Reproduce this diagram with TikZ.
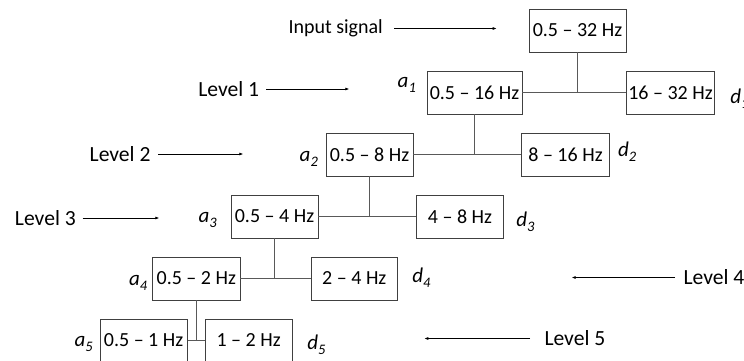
\documentclass[tikz,border=0pt]{standalone}
\usepackage{fontspec}
\setmainfont{Carlito}
\usetikzlibrary{arrows.meta}
\newcommand\mysubsc[1]{\raisebox{-5pt}{\fontsize{14.5}{16}\selectfont\itshape #1}}
\begin{document}
\begin{tikzpicture}[x=1pt,y=-1pt,
  band/.style={draw=black!75, line width=0.9pt, minimum height=43pt, inner sep=1pt,
    font=\fontsize{20}{24}\selectfont},
  conn/.style={draw=black!65, line width=0.9pt},
  lvl/.style={inner sep=0pt, font=\fontsize{21.6}{26}\selectfont},
  sym/.style={inner sep=0pt, anchor=base west, font=\fontsize{21}{25}\selectfont\itshape},
  arr/.style={draw=black, line width=0.7pt, -{Latex[length=4pt,width=3pt]}}]
\useasboundingbox (0,0) rectangle (744,360);

% boxes
\node[band, minimum width=97pt]   (in) at (577.5,30.5) {0.5 -- 32 Hz};
\node[band, minimum width=95pt]   (a1) at (474.5,92.5) {0.5 -- 16 Hz};
\node[band, minimum width=87.6pt] (d1) at (670.5,92.5) {16 -- 32 Hz};
\node[band, minimum width=87pt]   (a2) at (369.5,154.5) {0.5 -- 8 Hz};
\node[band, minimum width=87.6pt] (d2) at (565.5,154.5) {8 -- 16 Hz};
\node[band, minimum width=87pt]   (a3) at (274.5,216.5) {0.5 -- 4 Hz};
\node[band, minimum width=86.6pt] (d3) at (460,216.5) {4 -- 8 Hz};
\node[band, minimum width=87.3pt] (a4) at (196.3,278.5) {0.5 -- 2 Hz};
\node[band, minimum width=86.7pt] (d4) at (354.3,278.5) {2 -- 4 Hz};
\node[band, minimum width=87.3pt] (a5) at (143.6,340.5) {0.5 -- 1 Hz};
\node[band, minimum width=87.3pt] (d5) at (248.6,340.5) {1 -- 2 Hz};

% tree connectors
\draw[conn] (a1.east) -- (d1.west);
\draw[conn] (in.south) -- (in.south |- a1.east);
\draw[conn] (a2.east) -- (d2.west);
\draw[conn] (a1.south) -- (a1.south |- a2.east);
\draw[conn] (a3.east) -- (d3.west);
\draw[conn] (a2.south) -- (a2.south |- a3.east);
\draw[conn] (a4.east) -- (d4.west);
\draw[conn] (a3.south) -- (a3.south |- a4.east);
\draw[conn] (a5.east) -- (d5.west);
\draw[conn] (a4.south) -- (a4.south |- a5.east);

% approximation / detail symbols
\node[sym] (sa1) at (397.5,87.3) {a\mysubsc{1}};
\node[sym] (sa2) at (299.5,161) {a\mysubsc{2}};
\node[sym] (sa3) at (198.5,222.7) {a\mysubsc{3}};
\node[sym] (sa4) at (128.8,285) {a\mysubsc{4}};
\node[sym] (sa5) at (74.5,346) {a\mysubsc{5}};
\node[sym] (sd1) at (730.2,103.3) {d\mysubsc{1}};
\node[sym] (sd2) at (617.8,156.7) {d\mysubsc{2}};
\node[sym] (sd3) at (516.2,226) {d\mysubsc{3}};
\node[sym] (sd4) at (412.2,282.7) {d\mysubsc{4}};
\node[sym] (sd5) at (307.2,349.5) {d\mysubsc{5}};

% level labels and arrows
\node[lvl, anchor=east, font=\fontsize{20}{24}\selectfont] (lin) at (383,28.5) {Input signal};
\coordinate (tin) at (496.7,28.5);
\draw[arr] ([xshift=11pt]lin.east) -- (tin);

\node[lvl, anchor=east] (l1) at (259.3,89) {Level 1};
\coordinate (t1) at (349.3,89);
\draw[arr] ([xshift=6.7pt]l1.east) -- (t1);

\node[lvl, anchor=east] (l2) at (150.7,154) {Level 2};
\coordinate (t2) at (243.3,154);
\draw[arr] ([xshift=7.6pt]l2.east) -- (t2);

\node[lvl, anchor=east] (l3) at (76,218) {Level 3};
\coordinate (t3) at (159.3,218);
\draw[arr] ([xshift=6.7pt]l3.east) -- (t3);

\node[lvl, anchor=west] (l4) at (683.3,277.5) {Level 4};
\coordinate (t4) at (571.7,277.5);
\draw[arr] ([xshift=-8.3pt]l4.west) -- (t4);

\node[lvl, anchor=west] (l5) at (544.3,338.5) {Level 5};
\coordinate (t5) at (424.3,338.5);
\draw[arr] ([xshift=-14.3pt]l5.west) -- (t5);
\end{tikzpicture}
\end{document}
